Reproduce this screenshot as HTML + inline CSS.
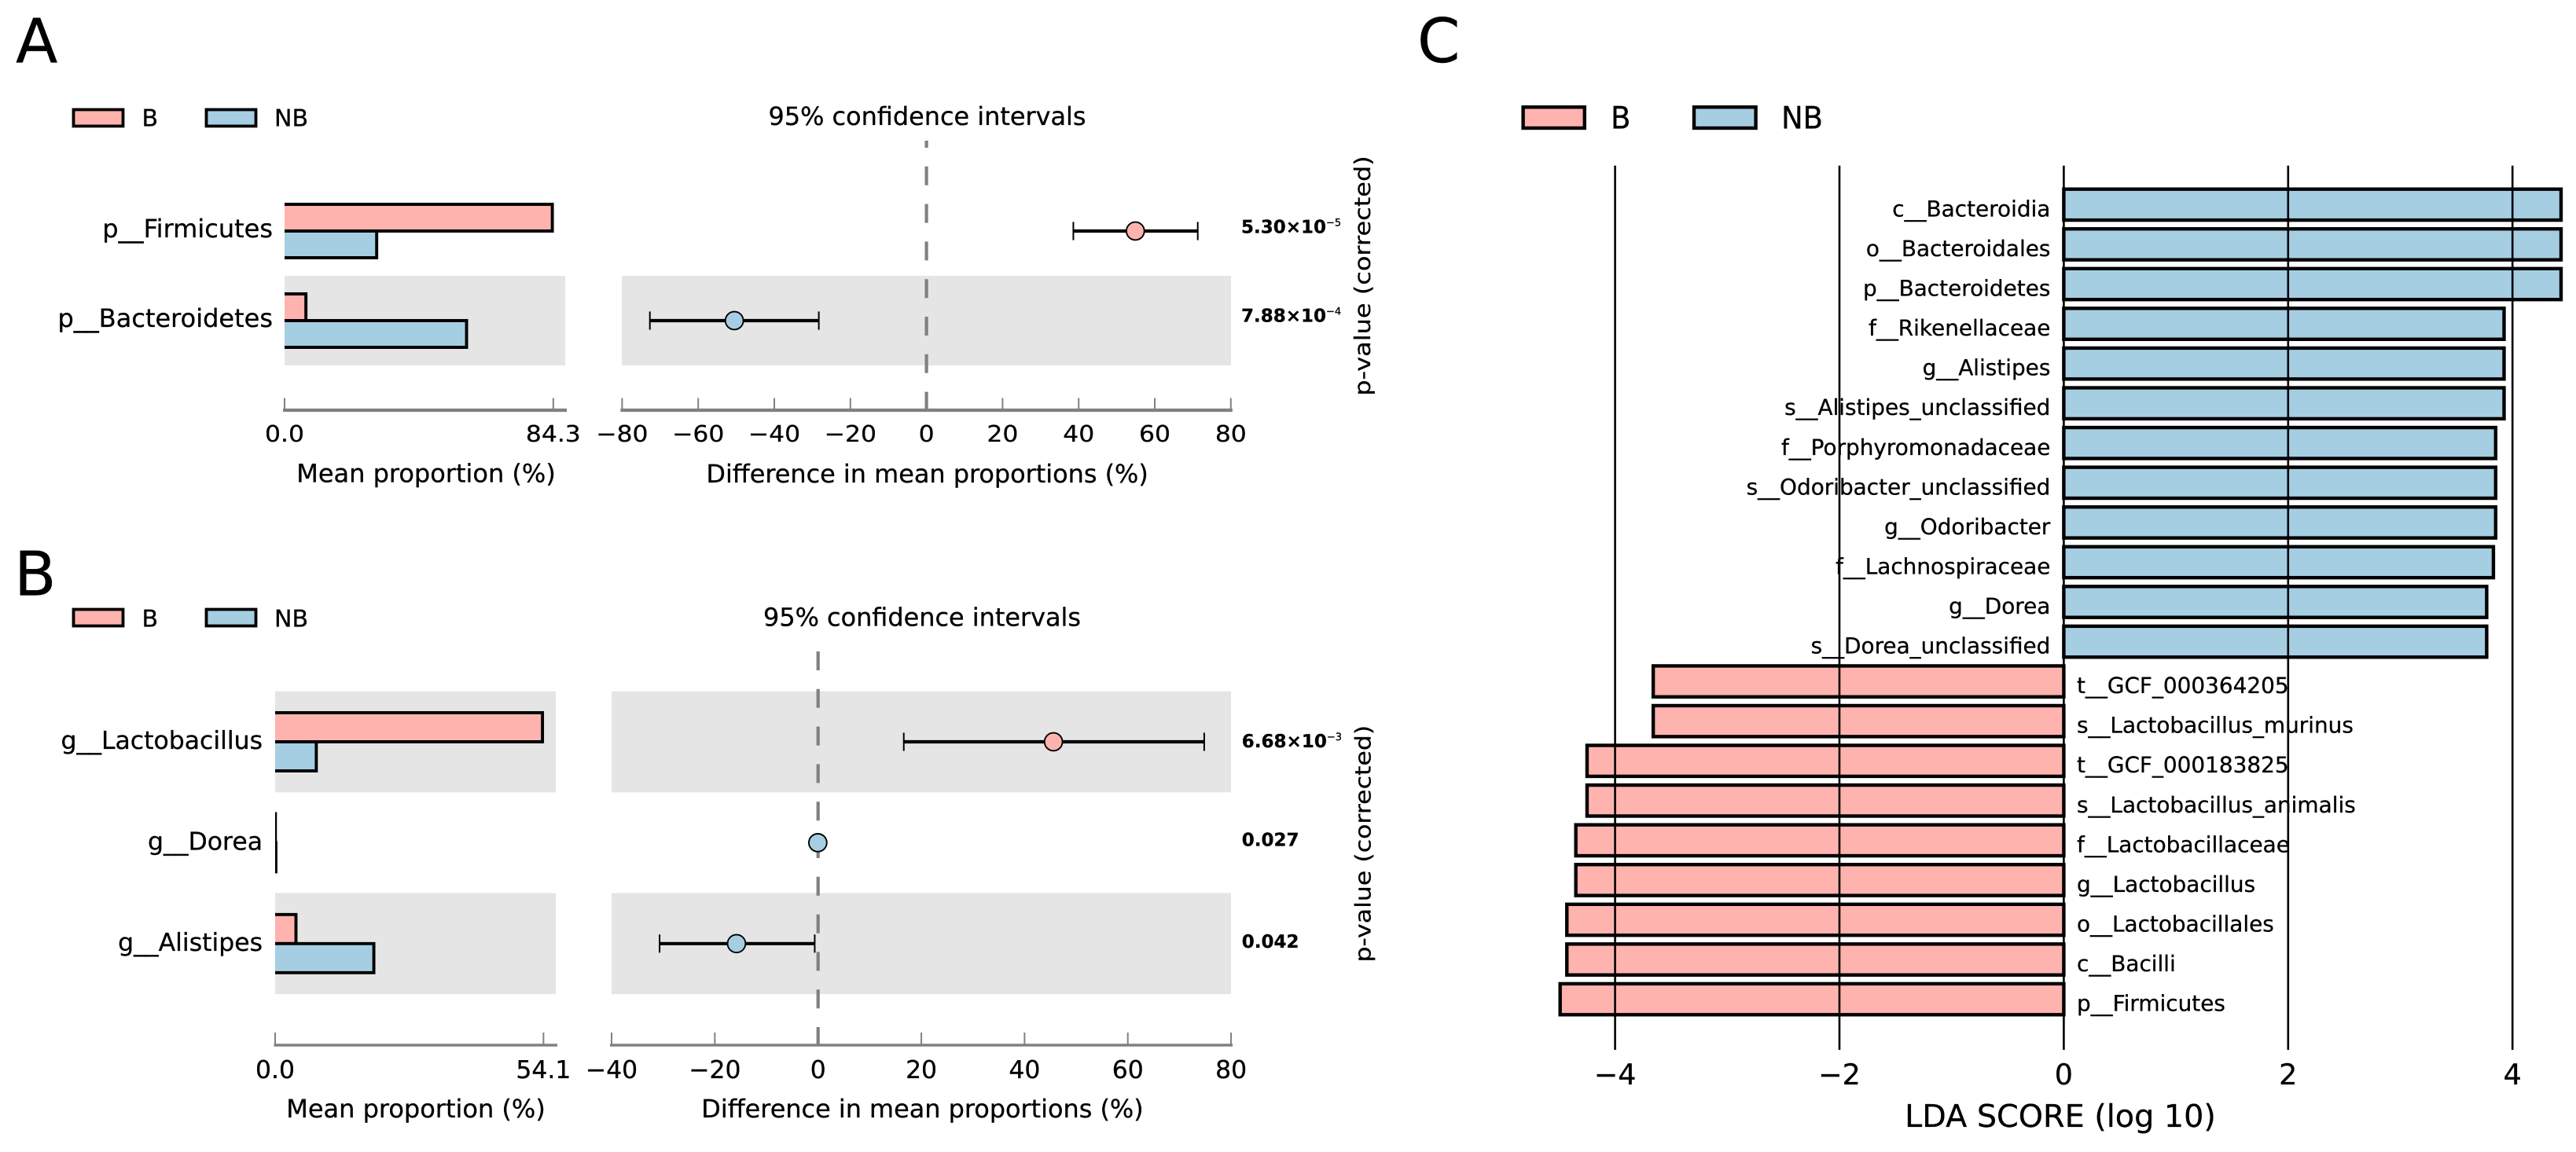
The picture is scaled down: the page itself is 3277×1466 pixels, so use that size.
<!DOCTYPE html>
<html>
<head>
<meta charset="utf-8">
<title>Differential abundance figure</title>
<style>
html,body{margin:0;padding:0;background:#fff;}
svg{display:block;}
text{font-family:"DejaVu Sans","Liberation Sans",sans-serif;fill:#000;stroke:#000;stroke-width:.3px;text-rendering:geometricPrecision;}
</style>
</head>
<body>
<svg id="figure" xmlns="http://www.w3.org/2000/svg" width="3277" height="1466" viewBox="0 0 3277 1466">
<rect x="0" y="0" width="3277" height="1466" fill="#ffffff"/>
<defs>
<clipPath id="clipA"><rect x="362" y="200" width="400" height="300"/></clipPath>
<clipPath id="clipB"><rect x="350" y="850" width="400" height="450"/></clipPath>
</defs>

<text x="20" y="79.5" font-size="78">A</text>
<text x="18" y="757.5" font-size="78">B</text>
<text x="1803" y="79" font-size="78">C</text>

<g>
<rect x="93.5" y="139.5" width="63" height="21" fill="#FFB3AE" stroke="#000" stroke-width="3.8"/>
<text x="180.5" y="160.5" font-size="30">B</text>
<rect x="262.5" y="139.5" width="63" height="21" fill="#A6CEE3" stroke="#000" stroke-width="3.8"/>
<text x="349" y="160.5" font-size="30">NB</text>
</g>
<g>
<rect x="93.5" y="775.5" width="63" height="21" fill="#FFB3AE" stroke="#000" stroke-width="3.8"/>
<text x="180.5" y="797.5" font-size="30">B</text>
<rect x="262.5" y="775.5" width="63" height="21" fill="#A6CEE3" stroke="#000" stroke-width="3.8"/>
<text x="349" y="797.5" font-size="30">NB</text>
</g>
<g>
<rect x="1937.6" y="136.3" width="78.2" height="26.7" fill="#FFB3AE" stroke="#000" stroke-width="4.4"/>
<text transform="translate(2049,163.3) scale(1,1.06)" font-size="37">B</text>
<rect x="2155" y="136.3" width="78.6" height="26.7" fill="#A6CEE3" stroke="#000" stroke-width="4.4"/>
<text transform="translate(2266,163.3) scale(1,1.06)" font-size="37">NB</text>
</g>

<text x="1179.5" y="159" font-size="31.9" text-anchor="middle">95% confidence intervals</text>
<text x="1173" y="796.5" font-size="31.9" text-anchor="middle">95% confidence intervals</text>
<text x="542" y="613.6" font-size="32" text-anchor="middle">Mean proportion (%)</text>
<text x="529" y="1422" font-size="32" text-anchor="middle">Mean proportion (%)</text>
<text x="1179.6" y="613.8" font-size="31.9" text-anchor="middle">Difference in mean proportions (%)</text>
<text x="1173.5" y="1422" font-size="31.9" text-anchor="middle">Difference in mean proportions (%)</text>
<text transform="translate(1743,351) rotate(-90) scale(1,.87)" font-size="32" text-anchor="middle">p-value (corrected)</text>
<text transform="translate(1743.5,1073.7) rotate(-90) scale(1,.87)" font-size="31.6" text-anchor="middle">p-value (corrected)</text>
<text x="2621" y="1434" font-size="39.7" text-anchor="middle">LDA SCORE (log 10)</text>

<g id="chartLayer"></g>
</svg>

<script>
const colorB = '#FFB3AE';
const colorNB = '#A6CEE3';

const panelACategories = ['p__Firmicutes', 'p__Bacteroidetes'];
const panelAMeanB = [84.0, 6.7];
const panelAMeanNB = [28.9, 57.1];
const panelADiff = [54.9, -50.5];
const panelADiffLow = [38.6, -72.7];
const panelADiffHigh = [71.3, -28.3];
const panelAPMantissa = ['5.30×10', '7.88×10'];
const panelAPExponent = ['−5', '−4'];
const panelAMeanTicks = ['0.0', '84.3'];
const panelADiffTicks = [-80, -60, -40, -20, 0, 20, 40, 60, 80];

const panelBCategories = ['g__Lactobacillus', 'g__Dorea', 'g__Alistipes'];
const panelBMeanB = [53.9, 0.05, 4.2];
const panelBMeanNB = [8.3, 0.15, 19.9];
const panelBDiff = [45.6, -0.05, -15.8];
const panelBDiffLow = [16.6, -0.1, -30.7];
const panelBDiffHigh = [74.8, 0.0, -0.65];
const panelBPMantissa = ['6.68×10', '0.027', '0.042'];
const panelBPExponent = ['−3', '', ''];
const panelBMeanTicks = ['0.0', '54.1'];
const panelBDiffTicks = [-40, -20, 0, 20, 40, 60, 80];

const ldaCategories = ['c__Bacteroidia', 'o__Bacteroidales', 'p__Bacteroidetes', 'f__Rikenellaceae', 'g__Alistipes', 's__Alistipes_unclassified', 'f__Porphyromonadaceae', 's__Odoribacter_unclassified', 'g__Odoribacter', 'f__Lachnospiraceae', 'g__Dorea', 's__Dorea_unclassified', 't__GCF_000364205', 's__Lactobacillus_murinus', 't__GCF_000183825', 's__Lactobacillus_animalis', 'f__Lactobacillaceae', 'g__Lactobacillus', 'o__Lactobacillales', 'c__Bacilli', 'p__Firmicutes'];
const ldaScores = [4.433, 4.433, 4.433, 3.925, 3.925, 3.925, 3.85, 3.85, 3.85, 3.83, 3.77, 3.77, -3.66, -3.66, -4.25, -4.25, -4.35, -4.35, -4.43, -4.43, -4.49];
const ldaTicks = [-4, -2, 0, 2, 4];

const NS = 'http://www.w3.org/2000/svg';
const layer = document.getElementById('chartLayer');

function make(tag, attrs, parent) {
  const node = document.createElementNS(NS, tag);
  for (const k in attrs) node.setAttribute(k, attrs[k]);
  (parent || layer).appendChild(node);
  return node;
}
function fmt(v) { return String(v).replace('-', '−'); }

function drawDashed(x, y0, y1, offset) {
  const el = make('line', { x1: x, x2: x, y1: y0, y2: y1, stroke: '#808080', 'stroke-width': 4.2, 'stroke-dasharray': '24 23.8', 'stroke-dashoffset': offset });
  
  
}

function drawAxis(xA, xB, y, tickTop, width) {
  const el = make('line', { x1: xA, x2: xB, y1: y, y2: y, stroke: '#808080', 'stroke-width': width });
  
  
}

function drawTick(x, y, tickTop, label, labelY, squash) {
  const t = make('line', { x1: x, x2: x, y1: tickTop, y2: y, stroke: '#808080', 'stroke-width': 2 });
  
  
  const txt = make('text', { transform: 'translate(' + x + ',' + labelY + ') scale(1,' + squash + ')', 'font-size': 31.4, 'text-anchor': 'middle' });
  txt.textContent = label;
  
  
}

function drawPanel(cfg) {
  const meanX = v => cfg.meanX0 + v * cfg.meanUnit;
  const diffX = v => cfg.diffZero + v * cfg.diffUnit;
  const rowY = i => cfg.rowY0 + i * cfg.rowStep;

  cfg.categories.forEach((name, i) => {
    if (i % 2 === cfg.shadeRemainder) {
      const bg1 = make('rect', { x: cfg.meanBgX0, y: rowY(i) - cfg.shadeHalf, width: cfg.meanBgX1 - cfg.meanBgX0, height: cfg.shadeHalf * 2, fill: '#E5E5E5' });
      
      
      const bg2 = make('rect', { x: cfg.diffBgX0, y: rowY(i) - cfg.shadeHalf, width: cfg.diffBgX1 - cfg.diffBgX0, height: cfg.shadeHalf * 2, fill: '#E5E5E5' });
      
      
    }
  });

  drawDashed(cfg.diffZero, cfg.dashTop, cfg.axisY, cfg.dashOffset);

  cfg.categories.forEach((name, i) => {
    const y = rowY(i);
    const x0 = cfg.meanX0;
    const h = cfg.barH;
    const pB = make('path', { d: 'M' + (x0 - 5) + ' ' + (y - h) + 'H' + meanX(cfg.meanB[i]) + 'V' + y + 'H' + (x0 - 5), fill: colorB, stroke: '#000', 'stroke-width': 3.9, 'clip-path': 'url(#' + cfg.clip + ')' });
    
    
    const pN = make('path', { d: 'M' + (x0 - 5) + ' ' + y + 'H' + meanX(cfg.meanNB[i]) + 'V' + (y + h) + 'H' + (x0 - 5), fill: colorNB, stroke: '#000', 'stroke-width': 3.9, 'clip-path': 'url(#' + cfg.clip + ')' });
    
    

    const label = make('text', { x: cfg.labelX, y: y + cfg.labelDy, 'font-size': cfg.labelSize, 'text-anchor': 'end' });
    label.textContent = name;
    
    

    const ci = make('line', { x1: diffX(cfg.low[i]), x2: diffX(cfg.high[i]), y1: y, y2: y, stroke: '#000', 'stroke-width': 4.2 });
    
    
    [cfg.low[i], cfg.high[i]].forEach(v => {
      const cap = make('line', { x1: diffX(v), x2: diffX(v), y1: y - 11.6, y2: y + 11.6, stroke: '#000', 'stroke-width': 2 });
      
      
    });
    const dot = make('circle', { cx: diffX(cfg.diff[i]), cy: y, r: 11.4, fill: cfg.diff[i] > 0 ? colorB : colorNB, stroke: '#000', 'stroke-width': 1.9 });
    
    

    const pv = make('text', { x: cfg.pX, y: y + cfg.pDy[i], 'font-size': 23, 'font-weight': 'bold' });
    
    
    const m = make('tspan', {}, pv);
    m.textContent = cfg.pM[i];
    if (cfg.pE[i]) {
      const e = make('tspan', { dy: -9, 'font-size': 13, 'font-weight': 'normal' }, pv);
      e.textContent = cfg.pE[i];
    }
  });

  drawAxis(cfg.meanAxisX0, cfg.meanAxisX1, cfg.axisY, cfg.tickTop, cfg.axisW);
  cfg.meanTicks.forEach(t => drawTick(meanX(parseFloat(t)), cfg.axisY, cfg.tickTop, t, cfg.tickLabelY, cfg.tickSquash));
  drawAxis(diffX(cfg.diffTicks[0]) - 2, diffX(cfg.diffTicks[cfg.diffTicks.length - 1]) + 2, cfg.axisY, cfg.tickTop, cfg.axisW);
  cfg.diffTicks.forEach(t => drawTick(diffX(t), cfg.axisY, cfg.tickTop, fmt(t), cfg.tickLabelY, cfg.tickSquash));
}

drawPanel({
  categories: panelACategories, meanB: panelAMeanB, meanNB: panelAMeanNB, diff: panelADiff, low: panelADiffLow, high: panelADiffHigh,
  pM: panelAPMantissa, pE: panelAPExponent, meanTicks: panelAMeanTicks, diffTicks: panelADiffTicks,
  meanX0: 362, meanUnit: 4.055, diffZero: 1178.6, diffUnit: 4.84, rowY0: 294, rowStep: 114, shadeHalf: 57, shadeRemainder: 1,
  meanBgX0: 362, meanBgX1: 719, diffBgX0: 791, diffBgX1: 1566, barH: 34, clip: 'clipA', labelX: 347, labelDy: 8, labelSize: 32,
  pX: 1579, pDy: [2.5, 1.5], axisY: 522, tickTop: 506.5, axisW: 4.2, tickLabelY: 562, tickSquash: 0.92,
  meanAxisX0: 360, meanAxisX1: 721, dashTop: 179, dashOffset: 15
});

drawPanel({
  categories: panelBCategories, meanB: panelBMeanB, meanNB: panelBMeanNB, diff: panelBDiff, low: panelBDiffLow, high: panelBDiffHigh,
  pM: panelBPMantissa, pE: panelBPExponent, meanTicks: panelBMeanTicks, diffTicks: panelBDiffTicks,
  meanX0: 350, meanUnit: 6.31, diffZero: 1040.7, diffUnit: 6.567, rowY0: 944, rowStep: 128.4, shadeHalf: 64.3, shadeRemainder: 0,
  meanBgX0: 350, meanBgX1: 707, diffBgX0: 778, diffBgX1: 1566, barH: 37, clip: 'clipB', labelX: 334, labelDy: 9, labelSize: 31.5,
  pX: 1579.8, pDy: [7, 4, 5], axisY: 1330, tickTop: 1314, axisW: 3.6, tickLabelY: 1372, tickSquash: 1,
  meanAxisX0: 348.5, meanAxisX1: 709, dashTop: 829, dashOffset: 0
});

const ldaX = v => 2625.4 + v * 142.7;
const ldaY = i => 260.4 + i * 50.56;
const ldaBarH = 39.4;

ldaScores.forEach((score, i) => {
  const x = Math.min(ldaX(0), ldaX(score));
  const w = Math.abs(ldaX(score) - ldaX(0));
  const bar = make('rect', { x: x, y: ldaY(i) - ldaBarH / 2, width: w, height: ldaBarH, fill: score > 0 ? colorNB : colorB, stroke: '#000', 'stroke-width': 4.4 });
  
  
});
ldaTicks.forEach(t => {
  const gl = make('line', { x1: ldaX(t), x2: ldaX(t), y1: 210.7, y2: 1336, stroke: '#000', 'stroke-width': 2.6 });
  
  
  const lbl = make('text', { x: ldaX(t), y: 1380, 'font-size': 36.5, 'text-anchor': 'middle' });
  lbl.textContent = fmt(t);
  
  
});
ldaCategories.forEach((name, i) => {
  const positive = ldaScores[i] > 0;
  const lbl = make('text', { x: positive ? ldaX(0) - 17 : ldaX(0) + 16.6, y: ldaY(i) + 15, 'font-size': 27.9, 'text-anchor': positive ? 'end' : 'start' });
  lbl.textContent = name;
  
  
});
</script>
</body>
</html>
